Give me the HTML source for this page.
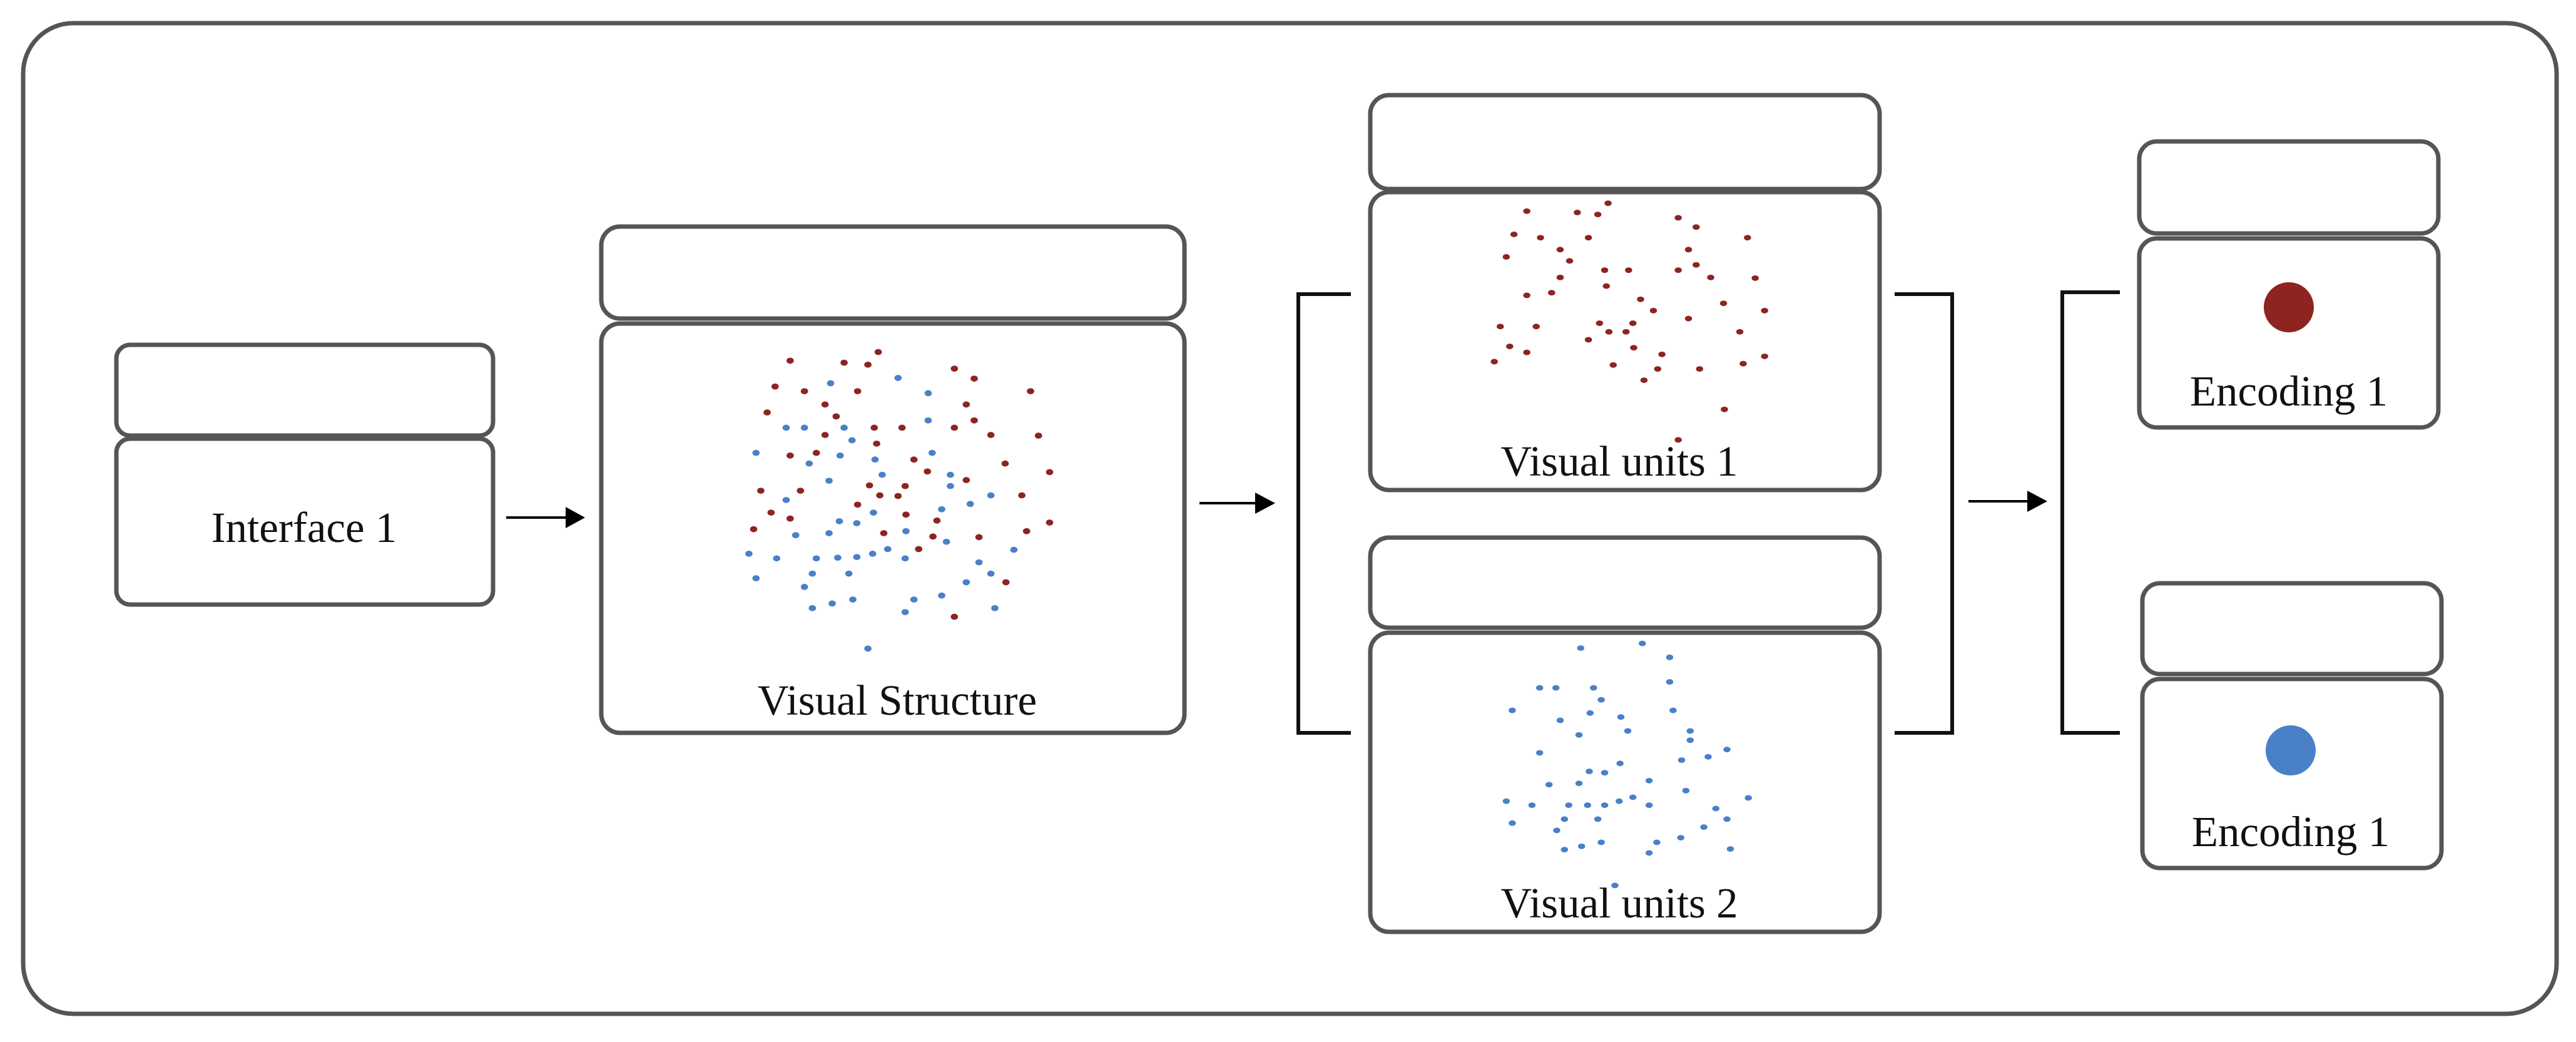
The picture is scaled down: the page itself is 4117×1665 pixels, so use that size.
<!DOCTYPE html>
<html><head><meta charset="utf-8"><style>
html,body{margin:0;padding:0;background:#fff;}
svg{display:block;}
text{font-family:"Liberation Serif",serif;font-size:69px;fill:#111;text-anchor:middle;}
.b{fill:#fff;stroke:#555;stroke-width:7;}
.l{fill:none;stroke:#111;stroke-width:6;}
.r circle{fill:#8e2420;}
.u circle{fill:#4a80c8;}
</style></head><body>
<svg width="4117" height="1665" viewBox="0 0 4117 1665" xmlns="http://www.w3.org/2000/svg">
<rect x="37" y="37" width="4049" height="1583" rx="80" fill="#fff" stroke="#555" stroke-width="7"/>
<!-- Interface -->
<rect class="b" x="186" y="551" width="602" height="145" rx="22"/>
<rect class="b" x="186" y="701" width="602" height="265" rx="22"/>
<text x="486" y="866">Interface 1</text>
<line x1="809" y1="827" x2="920" y2="827" stroke="#000" stroke-width="4"/>
<path d="M904,810 L935,827 L904,844 z" fill="#000"/>
<!-- Visual structure -->
<rect class="b" x="961" y="362" width="932" height="147" rx="30"/>
<rect class="b" x="961" y="517" width="932" height="654" rx="30"/>
<text x="1434" y="1142">Visual Structure</text>
<g transform="matrix(1.268 0 0 1.06 7.5 -0.3)">
<g class="r">
<circle cx="990" cy="544" r="4.6"/><circle cx="1058" cy="547" r="4.6"/><circle cx="1088" cy="550" r="4.6"/><circle cx="1101" cy="531" r="4.6"/><circle cx="1197" cy="556" r="4.6"/><circle cx="1222" cy="571" r="4.6"/><circle cx="971" cy="583" r="4.6"/><circle cx="1008" cy="590" r="4.6"/><circle cx="1075" cy="590" r="4.6"/><circle cx="1293" cy="590" r="4.6"/><circle cx="1034" cy="610" r="4.6"/><circle cx="1212" cy="610" r="4.6"/><circle cx="961" cy="622" r="4.6"/><circle cx="1048" cy="628" r="4.6"/><circle cx="1222" cy="634" r="4.6"/><circle cx="1034" cy="656" r="4.6"/><circle cx="1096" cy="645" r="4.6"/><circle cx="1131" cy="645" r="4.6"/><circle cx="1197" cy="645" r="4.6"/><circle cx="1243" cy="656" r="4.6"/><circle cx="1303" cy="657" r="4.6"/><circle cx="1099" cy="669" r="4.6"/><circle cx="990" cy="687" r="4.6"/><circle cx="1023" cy="683" r="4.6"/><circle cx="1146" cy="693" r="4.6"/><circle cx="1163" cy="711" r="4.6"/><circle cx="1212" cy="724" r="4.6"/><circle cx="1261" cy="699" r="4.6"/><circle cx="1317" cy="712" r="4.6"/><circle cx="953" cy="740" r="4.6"/><circle cx="1003" cy="740" r="4.6"/><circle cx="1090" cy="732" r="4.6"/><circle cx="1135" cy="733" r="4.6"/><circle cx="1103" cy="747" r="4.6"/><circle cx="1126" cy="748" r="4.6"/><circle cx="1282" cy="747" r="4.6"/><circle cx="966" cy="773" r="4.6"/><circle cx="990" cy="782" r="4.6"/><circle cx="1075" cy="761" r="4.6"/><circle cx="1136" cy="776" r="4.6"/><circle cx="1175" cy="785" r="4.6"/><circle cx="944" cy="798" r="4.6"/><circle cx="1108" cy="804" r="4.6"/><circle cx="1170" cy="809" r="4.6"/><circle cx="1228" cy="810" r="4.6"/><circle cx="1288" cy="801" r="4.6"/><circle cx="1317" cy="788" r="4.6"/><circle cx="1152" cy="828" r="4.6"/><circle cx="1262" cy="878" r="4.6"/><circle cx="1197" cy="930" r="4.6"/>
</g>
<g class="u">
<circle cx="1041" cy="578" r="4.6"/><circle cx="1126" cy="570" r="4.6"/><circle cx="1164" cy="593" r="4.6"/><circle cx="985" cy="645" r="4.6"/><circle cx="1008" cy="645" r="4.6"/><circle cx="1058" cy="645" r="4.6"/><circle cx="1164" cy="634" r="4.6"/><circle cx="1068" cy="664" r="4.6"/><circle cx="947" cy="683" r="4.6"/><circle cx="1053" cy="687" r="4.6"/><circle cx="1014" cy="699" r="4.6"/><circle cx="1097" cy="693" r="4.6"/><circle cx="1169" cy="683" r="4.6"/><circle cx="1106" cy="716" r="4.6"/><circle cx="1192" cy="716" r="4.6"/><circle cx="1192" cy="733" r="4.6"/><circle cx="1039" cy="725" r="4.6"/><circle cx="985" cy="754" r="4.6"/><circle cx="1243" cy="747" r="4.6"/><circle cx="1217" cy="760" r="4.6"/><circle cx="1181" cy="768" r="4.6"/><circle cx="1095" cy="773" r="4.6"/><circle cx="1052" cy="786" r="4.6"/><circle cx="1074" cy="789" r="4.6"/><circle cx="997" cy="807" r="4.6"/><circle cx="1039" cy="804" r="4.6"/><circle cx="1136" cy="801" r="4.6"/><circle cx="1187" cy="817" r="4.6"/><circle cx="1113" cy="828" r="4.6"/><circle cx="1094" cy="835" r="4.6"/><circle cx="1135" cy="842" r="4.6"/><circle cx="938" cy="835" r="4.6"/><circle cx="973" cy="842" r="4.6"/><circle cx="1023" cy="842" r="4.6"/><circle cx="1050" cy="841" r="4.6"/><circle cx="1074" cy="840" r="4.6"/><circle cx="1228" cy="848" r="4.6"/><circle cx="1272" cy="829" r="4.6"/><circle cx="1018" cy="865" r="4.6"/><circle cx="1064" cy="865" r="4.6"/><circle cx="1243" cy="865" r="4.6"/><circle cx="947" cy="872" r="4.6"/><circle cx="1008" cy="885" r="4.6"/><circle cx="1212" cy="878" r="4.6"/><circle cx="1181" cy="898" r="4.6"/><circle cx="1146" cy="904" r="4.6"/><circle cx="1069" cy="904" r="4.6"/><circle cx="1043" cy="910" r="4.6"/><circle cx="1018" cy="917" r="4.6"/><circle cx="1135" cy="923" r="4.6"/><circle cx="1248" cy="917" r="4.6"/><circle cx="1088" cy="978" r="4.6"/>
</g>
</g>
<line x1="1917" y1="804" x2="2022" y2="804" stroke="#000" stroke-width="4"/>
<path d="M2006,787 L2038,804 L2006,821 z" fill="#000"/>
<!-- left bracket -->
<path class="l" d="M2159,470 L2075,470 L2075,1171 L2159,1171"/>
<!-- Visual units 1 -->
<rect class="b" x="2190" y="152" width="814" height="150" rx="30"/>
<rect class="b" x="2190" y="307" width="814" height="476" rx="30"/>
<!-- Visual units 2 -->
<rect class="b" x="2190" y="859" width="814" height="144" rx="30"/>
<rect class="b" x="2190" y="1011" width="814" height="478" rx="30"/>
<g transform="matrix(1.367 0 0 1.0594 2000 0.5)">
<g class="r">
<circle cx="322" cy="318" r="4.2"/><circle cx="381" cy="320" r="4.2"/><circle cx="405" cy="323" r="4.2"/><circle cx="417" cy="306" r="4.2"/><circle cx="499" cy="328" r="4.2"/><circle cx="520" cy="342" r="4.2"/><circle cx="307" cy="353" r="4.2"/><circle cx="338" cy="358" r="4.2"/><circle cx="394" cy="358" r="4.2"/><circle cx="580" cy="358" r="4.2"/><circle cx="361" cy="376" r="4.2"/><circle cx="511" cy="376" r="4.2"/><circle cx="298" cy="387" r="4.2"/><circle cx="372" cy="393" r="4.2"/><circle cx="520" cy="399" r="4.2"/><circle cx="361" cy="418" r="4.2"/><circle cx="413" cy="407" r="4.2"/><circle cx="441" cy="407" r="4.2"/><circle cx="499" cy="407" r="4.2"/><circle cx="537" cy="418" r="4.2"/><circle cx="589" cy="419" r="4.2"/><circle cx="415" cy="431" r="4.2"/><circle cx="322" cy="445" r="4.2"/><circle cx="351" cy="441" r="4.2"/><circle cx="455" cy="451" r="4.2"/><circle cx="470" cy="468" r="4.2"/><circle cx="511" cy="480" r="4.2"/><circle cx="552" cy="457" r="4.2"/><circle cx="600" cy="468" r="4.2"/><circle cx="291" cy="492" r="4.2"/><circle cx="333" cy="492" r="4.2"/><circle cx="407" cy="487" r="4.2"/><circle cx="446" cy="487" r="4.2"/><circle cx="418" cy="500" r="4.2"/><circle cx="438" cy="500" r="4.2"/><circle cx="571" cy="500" r="4.2"/><circle cx="302" cy="522" r="4.2"/><circle cx="322" cy="531" r="4.2"/><circle cx="394" cy="512" r="4.2"/><circle cx="447" cy="524" r="4.2"/><circle cx="480" cy="534" r="4.2"/><circle cx="284" cy="545" r="4.2"/><circle cx="423" cy="550" r="4.2"/><circle cx="475" cy="556" r="4.2"/><circle cx="524" cy="556" r="4.2"/><circle cx="575" cy="548" r="4.2"/><circle cx="600" cy="537" r="4.2"/><circle cx="459" cy="573" r="4.2"/><circle cx="553" cy="617" r="4.2"/><circle cx="499" cy="663" r="4.2"/>
</g>
<g class="u">
<circle cx="385" cy="977" r="4.2"/><circle cx="457" cy="970" r="4.2"/><circle cx="489" cy="991" r="4.2"/><circle cx="337" cy="1037" r="4.2"/><circle cx="356" cy="1037" r="4.2"/><circle cx="400" cy="1037" r="4.2"/><circle cx="489" cy="1028" r="4.2"/><circle cx="409" cy="1055" r="4.2"/><circle cx="305" cy="1071" r="4.2"/><circle cx="396" cy="1075" r="4.2"/><circle cx="361" cy="1086" r="4.2"/><circle cx="432" cy="1081" r="4.2"/><circle cx="493" cy="1071" r="4.2"/><circle cx="440" cy="1102" r="4.2"/><circle cx="513" cy="1102" r="4.2"/><circle cx="513" cy="1116" r="4.2"/><circle cx="383" cy="1108" r="4.2"/><circle cx="337" cy="1135" r="4.2"/><circle cx="556" cy="1130" r="4.2"/><circle cx="534" cy="1141" r="4.2"/><circle cx="503" cy="1146" r="4.2"/><circle cx="431" cy="1151" r="4.2"/><circle cx="395" cy="1163" r="4.2"/><circle cx="413" cy="1165" r="4.2"/><circle cx="348" cy="1183" r="4.2"/><circle cx="383" cy="1181" r="4.2"/><circle cx="465" cy="1177" r="4.2"/><circle cx="508" cy="1192" r="4.2"/><circle cx="446" cy="1202" r="4.2"/><circle cx="430" cy="1208" r="4.2"/><circle cx="465" cy="1214" r="4.2"/><circle cx="298" cy="1208" r="4.2"/><circle cx="328" cy="1214" r="4.2"/><circle cx="371" cy="1214" r="4.2"/><circle cx="393" cy="1214" r="4.2"/><circle cx="413" cy="1214" r="4.2"/><circle cx="543" cy="1219" r="4.2"/><circle cx="581" cy="1203" r="4.2"/><circle cx="366" cy="1235" r="4.2"/><circle cx="405" cy="1235" r="4.2"/><circle cx="556" cy="1235" r="4.2"/><circle cx="305" cy="1241" r="4.2"/><circle cx="357" cy="1252" r="4.2"/><circle cx="529" cy="1247" r="4.2"/><circle cx="502" cy="1263" r="4.2"/><circle cx="474" cy="1270" r="4.2"/><circle cx="409" cy="1270" r="4.2"/><circle cx="386" cy="1276" r="4.2"/><circle cx="366" cy="1281" r="4.2"/><circle cx="465" cy="1286" r="4.2"/><circle cx="560" cy="1280" r="4.2"/><circle cx="425" cy="1335" r="4.2"/>
</g>
</g>
<text x="2588" y="760">Visual units 1</text>
<text x="2588" y="1466">Visual units 2</text>
<!-- right bracket -->
<path class="l" d="M3028,470 L3120,470 L3120,1171 L3028,1171"/>
<line x1="3146" y1="801" x2="3256" y2="801" stroke="#000" stroke-width="4"/>
<path d="M3240,784 L3272,801 L3240,818 z" fill="#000"/>
<path class="l" d="M3388,467 L3296,467 L3296,1171 L3388,1171"/>
<!-- Encoding 1 -->
<rect class="b" x="3419" y="226" width="478" height="147" rx="28"/>
<rect class="b" x="3419" y="381" width="478" height="302" rx="28"/>
<circle cx="3658" cy="491" r="40" fill="#8e2420"/>
<text x="3658" y="648">Encoding 1</text>
<!-- Encoding 2 -->
<rect class="b" x="3424" y="932" width="478" height="145" rx="28"/>
<rect class="b" x="3424" y="1085" width="478" height="302" rx="28"/>
<circle cx="3661" cy="1199" r="40" fill="#4a80c8"/>
<text x="3661" y="1352">Encoding 1</text>
</svg>
</body></html>
